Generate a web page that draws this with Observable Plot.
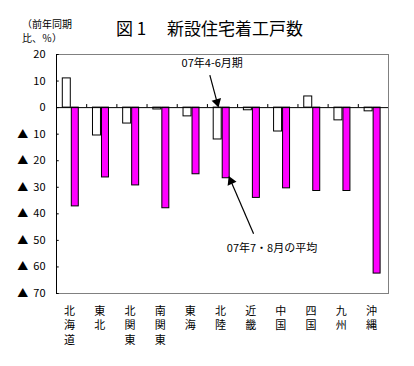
<!DOCTYPE html>
<html>
<head>
<meta charset="utf-8">
<script src="https://cdn.jsdelivr.net/npm/d3@7"></script>
<script src="https://cdn.jsdelivr.net/npm/@observablehq/plot@0.6"></script>
<style>
  html, body { margin: 0; padding: 0; background: #fff; }
  #wrap { position: relative; width: 414px; height: 366px; font-family: "Noto Sans CJK JP", sans-serif; color: #000; }
  #title { position: absolute; left: 116px; top: 18px; font-size: 17px; line-height: 20px; white-space: pre; font-weight: 400; }
  #unit { position: absolute; left: 22px; top: 17px; font-size: 10px; line-height: 14px; white-space: pre; }
  #chart { position: absolute; left: 0; top: 0; }
</style>
</head>
<body>
<div id="wrap">
  <div id="chart"></div>
  <div id="title">図 1　 新設住宅着工戸数</div>
  <div id="unit">（前年同期
比、％）</div>
</div>
<script>
// Data
const regions = ["北海道", "東北", "北関東", "南関東", "東海", "北陸", "近畿", "中国", "四国", "九州", "沖縄"];
const aprJun = [11, -10.5, -6, -0.7, -3.3, -12, -1, -9, 4.2, -4.8, -1.4];       // 07年4-6月期
const julAug = [-37.2, -26.3, -29.3, -37.9, -25.1, -26.6, -34, -30.4, -31.4, -31.4, -62.5]; // 07年7・8月の平均
const yTicks = [20, 10, 0, -10, -20, -30, -40, -50, -60, -70];

// Annotations (data space: x = region index position, y = %)
const annoText = [
  {label: "07年4-6月期", x: 5.16, y: 16.6},
  {label: "07年7・8月の平均", x: 7.14, y: -53.1}
];
const annoArrows = [
  {x1: 5.08, y1: 12.2, x2: 5.32, y2: 2.1, rot: 164.5},
  {x1: 6.53, y1: -47.5, x2: 5.78, y2: -27.7, rot: -23.3}
];

const rowsA = regions.map((r, i) => ({i, region: r, value: aprJun[i]}));
const rowsB = regions.map((r, i) => ({i, region: r, value: julAug[i]}));
const boundaries = d3.range(1, regions.length);

const chart = Plot.plot({
  width: 414,
  height: 366,
  marginLeft: 56,
  marginRight: 26,
  marginTop: 54,
  marginBottom: 73,
  style: {fontFamily: "Noto Sans CJK JP, sans-serif", color: "#000", background: "transparent"},
  x: {type: "linear", domain: [0, regions.length]},
  y: {domain: [-70, 20]},
  marks: [
    Plot.frame({stroke: "#808080"}),
    Plot.rectY(rowsA, {x: "i", y: "value", interval: 1, insetLeft: 6.3, insetRight: 15.9, fill: "#fff", stroke: "#000", strokeWidth: 1}),
    Plot.rectY(rowsB, {x: "i", y: "value", interval: 1, insetLeft: 15.3, insetRight: 7.9, fill: "#ff00ff", stroke: "#000", strokeWidth: 1}),
    Plot.ruleY([0], {stroke: "#000"}),
    Plot.ruleX(boundaries, {y1: 0, y2: 1.15, stroke: "#000"}),
    Plot.ruleX([0], {stroke: "#000"}),
    Plot.ruleY(yTicks, {x1: 0, x2: 0.09, stroke: "#000"}),
    Plot.axisY(yTicks, {
      tickSize: 0, tickPadding: 11, fontSize: 11,
      tickFormat: d => d < 0 ? "▲  " + (-d) : String(d)
    }),
    Plot.axisX(d3.range(regions.length).map(i => i + 0.5), {
      tickSize: 0, tickPadding: 11, fontSize: 11, dx: -2,
      tickFormat: v => regions[Math.floor(v)].split("").join("\n"),
      lineHeight: 1.32
    }),
    Plot.link(annoArrows, {x1: "x1", y1: "y1", x2: "x2", y2: "y2", stroke: "#000", strokeWidth: 1.2}),
    Plot.dot(annoArrows, {x: "x2", y: "y2", symbol: "triangle", r: 3.6, fill: "#000", stroke: "none", rotate: "rot"}),
    Plot.text(annoText, {x: "x", y: "y", text: "label", fontSize: 11, fill: "#000"})
  ]
});
document.getElementById("chart").appendChild(chart);
</script>
</body>
</html>
